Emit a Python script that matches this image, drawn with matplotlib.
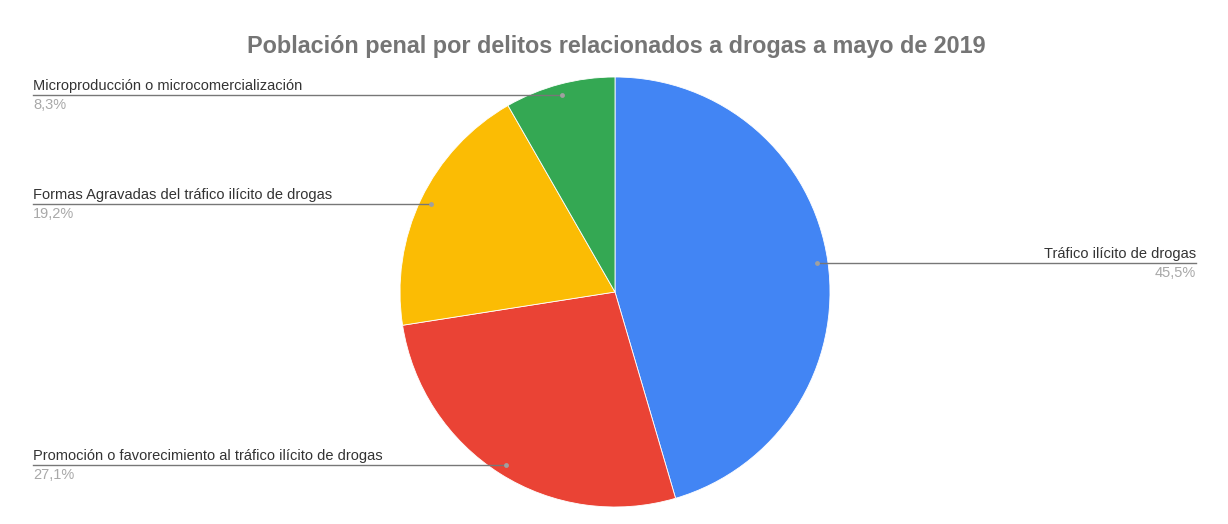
import numpy as np
import matplotlib
matplotlib.use("Agg")
import matplotlib.pyplot as plt

# data
categories = [
    "Tráfico ilícito de drogas",
    "Promoción o favorecimiento al tráfico ilícito de drogas",
    "Formas Agravadas del tráfico ilícito de drogas",
    "Microproducción o microcomercialización",
]
values = [45.5, 27.1, 19.2, 8.3]
pct_labels = ["45,5%", "27,1%", "19,2%", "8,3%"]
colors = ["#4285F4", "#EA4335", "#FBBC04", "#34A853"]

plt.rcParams["font.family"] = ["Liberation Sans", "DejaVu Sans"]

W, H = 1228, 524
fig = plt.figure(figsize=(W / 100, H / 100), dpi=100)
ax = fig.add_axes([0, 0, 1, 1])

cx, cy, r = 615, H - 292, 215
wedges, _ = ax.pie(values, colors=colors, startangle=90, counterclock=False,
                   center=(cx, cy), radius=r, frame=True,
                   wedgeprops=dict(edgecolor="white", linewidth=0.6))
ax.set_xlim(0, W)
ax.set_ylim(0, H)
ax.set_aspect("equal")
ax.axis("off")

left_x, right_x = 33, 1196
for w, cat, pct in zip(wedges, categories, pct_labels):
    mid = np.deg2rad((w.theta1 + w.theta2) / 2)
    dx = cx + 0.95 * r * np.cos(mid)
    dy = cy + 0.95 * r * np.sin(mid)
    ax.plot(dx, dy, "o", ms=3.5, color="#a0a0a0", mec="none", zorder=4)
    if np.cos(mid) >= 0:
        ax.plot([dx, right_x], [dy, dy], color="#777777", lw=1, zorder=3)
        ax.text(right_x, dy + 2, cat, ha="right", va="bottom", fontsize=10.5, color="#333333")
        ax.text(right_x, dy - 3, pct, ha="right", va="top", fontsize=10.5, color="#a8a8a8")
    else:
        ax.plot([left_x, dx], [dy, dy], color="#777777", lw=1, zorder=3)
        ax.text(left_x, dy + 2, cat, ha="left", va="bottom", fontsize=10.5, color="#333333")
        ax.text(left_x, dy - 3, pct, ha="left", va="top", fontsize=10.5, color="#a8a8a8")

ax.text(616, H - 47, "Población penal por delitos relacionados a drogas a mayo de 2019",
        ha="center", va="center", fontsize=16.8, fontweight="bold", color="#757575")

fig.savefig("out.png", dpi=100, facecolor="white")
